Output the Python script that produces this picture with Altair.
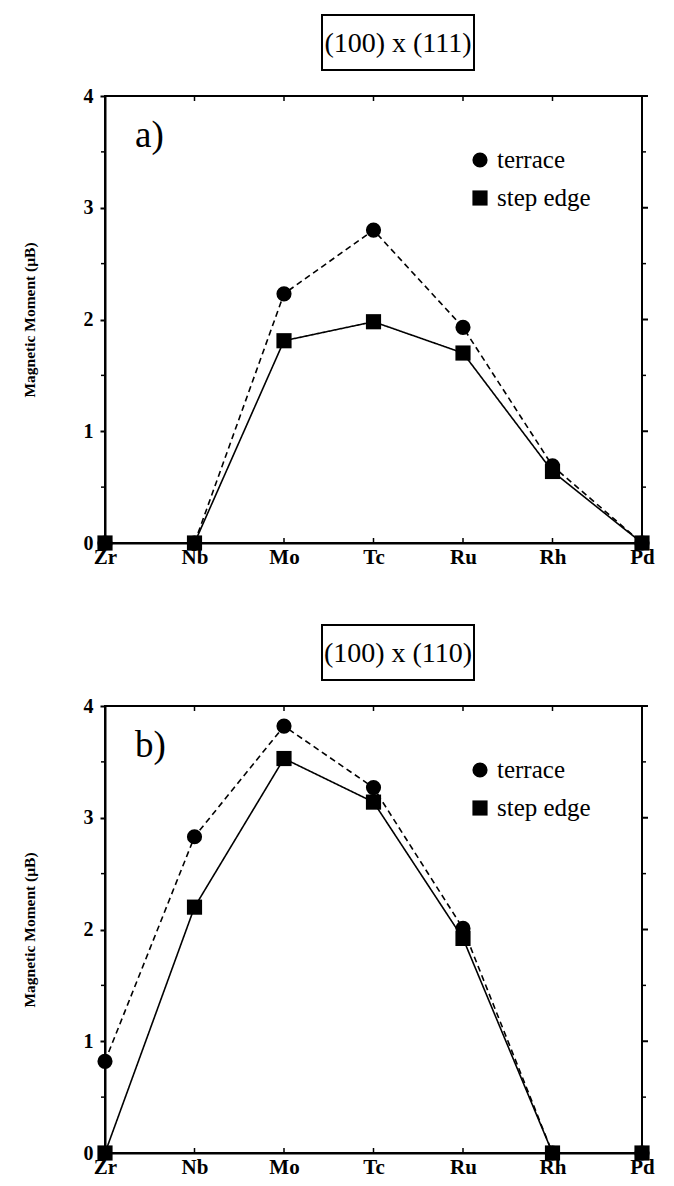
import altair as alt
import pandas as pd

elements = ["Zr", "Nb", "Mo", "Tc", "Ru", "Rh", "Pd"]
a_terrace = [0.0, 0.0, 2.23, 2.80, 1.93, 0.69, 0.0]
a_step = [0.0, 0.0, 1.81, 1.98, 1.70, 0.64, 0.0]
b_terrace = [0.82, 2.83, 3.82, 3.27, 2.01, 0.0, 0.0]
b_step = [0.0, 2.20, 3.53, 3.14, 1.92, 0.0, 0.0]
series_names = ["terrace", "step edge"]
titles = ["(100) x (111)", "(100) x (110)"]
panel_labels = ["a)", "b)"]
y_major = [0, 1, 2, 3, 4]
y_minor = [0.5, 1.5, 2.5, 3.5]
y_title = "Magnetic Moment (\u03bcB)"

W, H = 537, 447
FONT = "Liberation Serif"
SHAPES = ["circle", "square"]


def panel(terr, step, title, label):
    df = pd.DataFrame({
        "element": elements * 2,
        "series": [series_names[0]] * len(elements) + [series_names[1]] * len(elements),
        "value": terr + step,
    })
    xs = alt.Scale(type="point", padding=0, domain=elements)
    ys = alt.Scale(domain=[0, 4], nice=False, zero=True)
    x = alt.X("element:N", sort=elements, scale=xs,
              axis=alt.Axis(title=None, labelFont=FONT, labelFontWeight="bold",
                            labelFontSize=21, labelAngle=0, tickSize=0, grid=False,
                            domainWidth=2, domainColor="black", labelColor="black",
                            labelPadding=3))
    y = alt.Y("value:Q", scale=ys,
              axis=alt.Axis(title=y_title, values=y_major, format="d", grid=False,
                            labelFont=FONT, labelFontWeight="bold", labelFontSize=20,
                            labelColor="black", tickSize=5, tickWidth=2, tickColor="black",
                            domainWidth=2, domainColor="black", labelPadding=7,
                            titleFont=FONT, titleFontWeight="bold", titleFontSize=15.5,
                            titleColor="black", titlePadding=46))
    lines = alt.Chart(df).mark_line(color="black", strokeWidth=1.6).encode(
        x=x, y=y,
        strokeDash=alt.StrokeDash("series:N", scale=alt.Scale(domain=series_names, range=[[6, 4], [1, 0]]), legend=None),
        detail="series:N",
    )
    pts = alt.Chart(df).mark_point(filled=True, opacity=1, color="black", size=230).encode(
        x=alt.X("element:N", sort=elements, scale=xs),
        y=alt.Y("value:Q", scale=ys),
        shape=alt.Shape("series:N", scale=alt.Scale(domain=series_names, range=SHAPES), legend=None),
    )
    frame_df = pd.DataFrame({"f": [0]})
    frame = alt.Chart(frame_df).mark_rect(fill=None, fillOpacity=0, stroke="black", strokeWidth=2).encode(
        x=alt.value(0), x2=alt.value(W), y=alt.value(0), y2=alt.value(H))
    minor_df = pd.DataFrame({"value": y_minor})
    major_df = pd.DataFrame({"value": y_major})
    minor_l = alt.Chart(minor_df).mark_rule(color="black", strokeWidth=1.5).encode(
        y=alt.Y("value:Q", scale=ys), x=alt.value(-4), x2=alt.value(0))
    minor_r = alt.Chart(minor_df).mark_rule(color="black", strokeWidth=1.5).encode(
        y=alt.Y("value:Q", scale=ys), x=alt.value(W), x2=alt.value(W + 4))
    major_r = alt.Chart(major_df).mark_rule(color="black", strokeWidth=2).encode(
        y=alt.Y("value:Q", scale=ys), x=alt.value(W), x2=alt.value(W + 6))
    xt_df = pd.DataFrame({"element": elements})
    xt_b = alt.Chart(xt_df).mark_rule(color="black", strokeWidth=1.5).encode(
        x=alt.X("element:N", sort=elements, scale=xs), y=alt.value(H), y2=alt.value(H - 5))
    xt_t = alt.Chart(xt_df).mark_rule(color="black", strokeWidth=1.5).encode(
        x=alt.X("element:N", sort=elements, scale=xs), y=alt.value(0), y2=alt.value(5))
    tdf = pd.DataFrame({"t": [title]})
    box = alt.Chart(tdf).mark_rect(fill="white", stroke="black", strokeWidth=2).encode(
        x=alt.value(217), x2=alt.value(369), y=alt.value(-81), y2=alt.value(-26))
    ttxt = alt.Chart(tdf).mark_text(font=FONT, fontSize=28, color="black", baseline="middle").encode(
        text="t:N", x=alt.value(293), y=alt.value(-52))
    ldf = pd.DataFrame({"t": [label]})
    ltxt = alt.Chart(ldf).mark_text(font=FONT, fontSize=37, color="black", align="left", baseline="middle").encode(
        text="t:N", x=alt.value(30), y=alt.value(40))
    legend_layers = []
    for i, (name, shp) in enumerate(zip(series_names, SHAPES)):
        ly = 64 + 38 * i
        sdf = pd.DataFrame({"series": [name]})
        legend_layers.append(alt.Chart(sdf).mark_point(filled=True, opacity=1, color="black", size=230, shape=shp).encode(
            x=alt.value(375), y=alt.value(ly)))
        legend_layers.append(alt.Chart(sdf).mark_text(font=FONT, fontSize=25, color="black", align="left", baseline="middle").encode(
            x=alt.value(392), y=alt.value(ly), text="series:N"))
    return alt.layer(frame, lines, pts, minor_l, minor_r, major_r, xt_b, xt_t, box, ttxt, ltxt, *legend_layers).properties(width=W, height=H)


pa = panel(a_terrace, a_step, titles[0], panel_labels[0])
pb = panel(b_terrace, b_step, titles[1], panel_labels[1])

chart = alt.vconcat(pa, pb, spacing=163, bounds="flush").properties(
    padding={"left": 21, "top": 13, "right": 5, "bottom": 5}
).configure_view(stroke=None).configure_axis(grid=False).configure(background="white")

chart.save("out.html", embed_options={"renderer": "svg", "actions": False})
